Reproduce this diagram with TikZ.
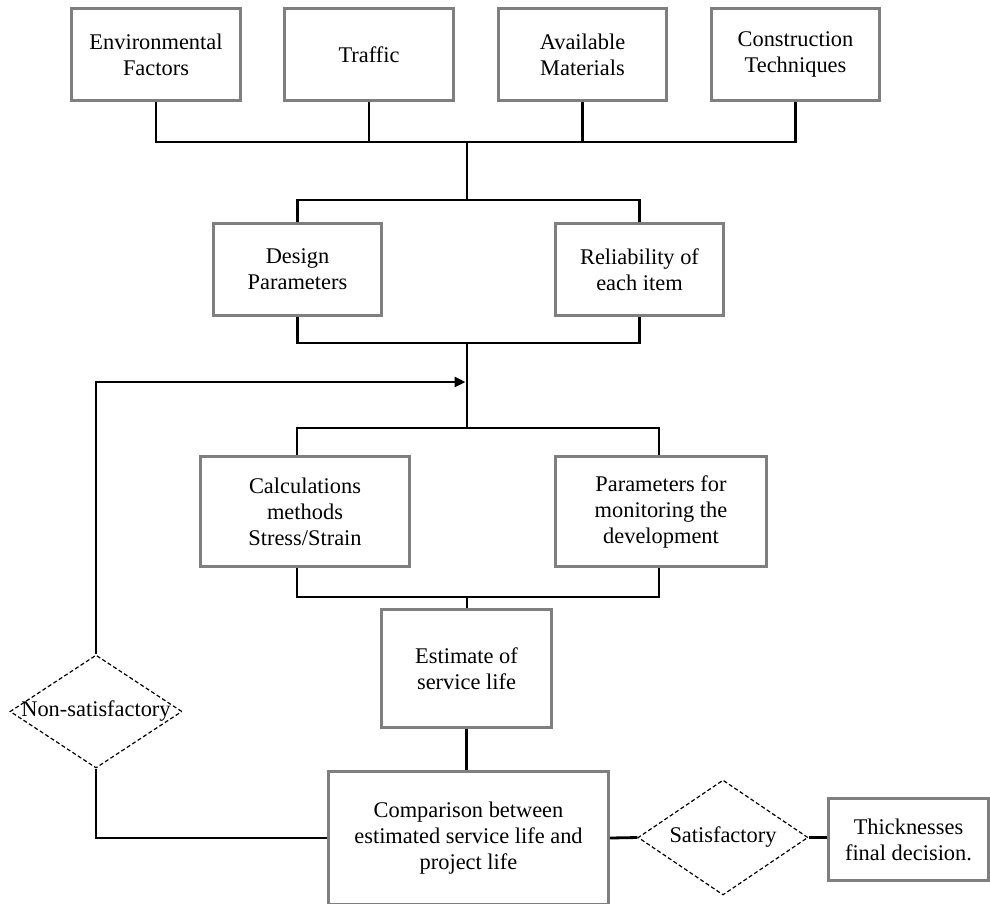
\documentclass[tikz,border=0pt]{standalone}
\usepackage{fontspec}
\setmainfont{Liberation Serif}
\usetikzlibrary{shapes.geometric,arrows.meta}
\definecolor{boxgray}{HTML}{7F7F7F}
\tikzset{
  txt/.style={font=\fontsize{22.4}{26}\selectfont, align=center},
  stepbox/.style={txt, draw=boxgray, line width=3pt, fill=white, inner sep=0pt, rectangle},
  choice/.style={shape=diamond, draw=black, line width=1.2pt, dash pattern=on 4pt off 2.5pt,
                 inner sep=0pt, fill=white},
  conn/.style={draw=black, line width=2.8pt},
  feed/.style={conn, -{Triangle[length=11pt,width=10pt]}}
}
\begin{document}
\begin{tikzpicture}[x=1pt,y=-1pt]
\clip (0,0) rectangle (990,903);
\fill[white] (0,0) rectangle (990,903);

% junction points on the central spine
\coordinate (hubA) at (467,142);
\coordinate (hubB) at (467,200);
\coordinate (hubC) at (467,343);
\coordinate (hubF) at (467,382);
\coordinate (hubD) at (467,428);
\coordinate (hubE) at (467,597);

% input factors
\node[stepbox, minimum width=169pt, minimum height=92pt] (env)    at (156,54.5)   {Environmental\\Factors};
\node[stepbox, minimum width=169pt, minimum height=92pt] (traf)   at (369,54.5)   {Traffic};
\node[stepbox, minimum width=168pt, minimum height=92pt] (avail)  at (582.5,54.5) {Available\\Materials};
\node[stepbox, minimum width=168pt, minimum height=92pt] (constr) at (795.5,54.5) {Construction\\Techniques};

% design inputs
\node[stepbox, minimum width=168pt, minimum height=92pt] (design) at (297.5,269.5) {Design\\Parameters};
\node[stepbox, minimum width=168pt, minimum height=92pt] (rel)    at (639.5,269.5) {Reliability of\\each item};

% analysis
\node[stepbox, minimum width=209pt, minimum height=110pt] (calc) at (305,511.5) {Calculations\\methods\\Stress/Strain};
\node[stepbox, minimum width=211pt, minimum height=110pt] (mon)  at (661,511.5) {Parameters for\\monitoring the\\development};

\node[stepbox, minimum width=170pt, minimum height=118pt] (est) at (466.5,668.5) {Estimate of\\service life};

\node[stepbox, minimum width=280pt, minimum height=133pt] (comp) at (468.5,838) {Comparison between\\estimated service life and\\project life};

\node[stepbox, minimum width=160pt, minimum height=82pt] (thick) at (908.5,839.5) {Thicknesses\\final decision.};

% decisions
\node[choice, minimum width=172pt, minimum height=113pt,
      label={[txt]center:Non-satisfactory}] (ns) at (96,711.5) {};
\node[choice, minimum width=170pt, minimum height=115pt,
      label={[txt]center:Satisfactory}] (sat) at (723,837.5) {};

% upper bus
\draw[conn] (env.south) |- (hubA);
\draw[conn] (traf.south) -- (traf.south |- hubA);
\draw[conn] (avail.south) -- (avail.south |- hubA);
\draw[conn] (constr.south) |- (hubA);
\draw[conn] (hubA) -- (hubB);
\draw[conn] (design.north) |- (hubB);
\draw[conn] (rel.north) |- (hubB);

% middle bus
\draw[conn] (design.south) |- (hubC);
\draw[conn] (rel.south) |- (hubC);
\draw[conn] (hubC) -- (hubD);
\draw[conn] ([xshift=-8pt]calc.north) |- (hubD);
\draw[conn] ([xshift=-2pt]mon.north) |- (hubD);

% lower bus
\draw[conn] ([xshift=-8pt]calc.south) |- (hubE);
\draw[conn] ([xshift=-2pt]mon.south) |- (hubE);
\draw[conn] (hubE) -- (hubE |- est.north);
\draw[conn] (est.south) -- (est.south |- comp.north);

% decision paths
\draw[conn] (comp.west) -| (ns.south);
\draw[feed] (ns.north) |- ([xshift=-1.5pt]hubF);
\draw[conn] (comp.east) -- (sat.west);
\draw[conn] (sat.east) -- (sat.east -| thick.west);
\end{tikzpicture}
\end{document}
